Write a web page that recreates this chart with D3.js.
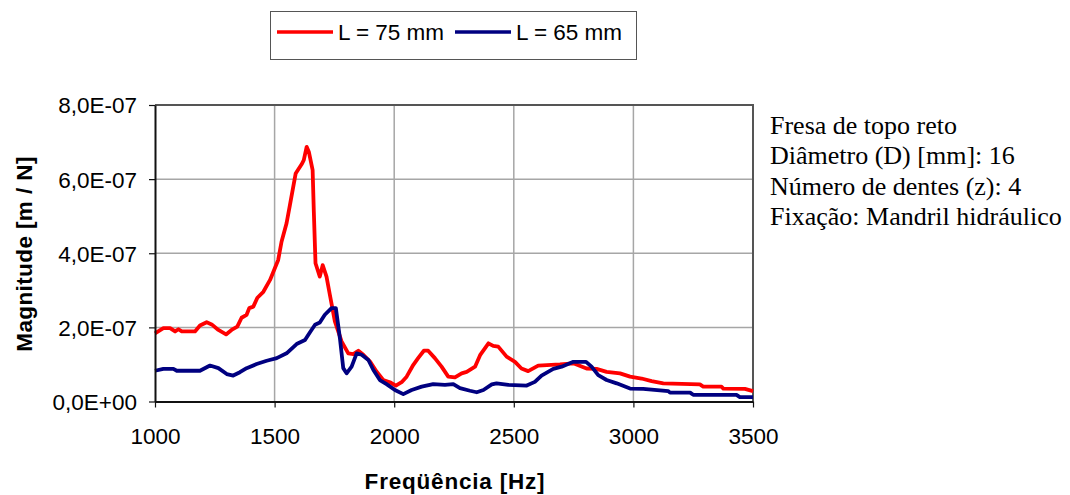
<!DOCTYPE html>
<html>
<head>
<meta charset="utf-8">
<script src="https://cdn.jsdelivr.net/npm/d3@7"></script>
<style>
  body { margin: 0; background: #fff; }
  svg { display: block; }
</style>
</head>
<body>
<svg id="chart" width="1070" height="495"></svg>
<script>
// frequency [Hz] / magnitude [1e-7 m/N]
const freqL75 = [1000, 1035, 1063, 1084, 1098, 1112, 1167, 1188, 1216, 1237, 1265, 1297, 1320, 1344, 1362, 1383, 1394, 1411, 1428, 1453, 1481, 1495, 1515, 1529, 1550, 1564, 1588, 1613, 1622, 1634, 1643, 1659, 1664, 1671, 1689, 1701, 1717, 1731, 1752, 1780, 1808, 1829, 1850, 1871, 1899, 1926, 1954, 1982, 2007, 2031, 2052, 2080, 2100, 2124, 2142, 2170, 2198, 2226, 2254, 2282, 2303, 2338, 2359, 2394, 2414, 2435, 2470, 2505, 2532, 2560, 2602, 2693, 2749, 2804, 2846, 2888, 2944, 2986, 3034, 3076, 3125, 3278, 3292, 3368, 3376, 3466, 3500];
const magL75 = [1.84, 1.98, 1.98, 1.89, 1.95, 1.89, 1.89, 2.05, 2.14, 2.08, 1.93, 1.81, 1.93, 2.02, 2.26, 2.34, 2.52, 2.56, 2.80, 2.96, 3.28, 3.50, 3.82, 4.31, 4.81, 5.30, 6.15, 6.40, 6.51, 6.87, 6.74, 6.24, 5.12, 3.73, 3.37, 3.68, 3.37, 2.88, 2.16, 1.62, 1.30, 1.28, 1.37, 1.26, 1.08, 0.81, 0.58, 0.52, 0.43, 0.52, 0.67, 0.99, 1.17, 1.37, 1.37, 1.17, 0.94, 0.67, 0.65, 0.76, 0.80, 0.94, 1.25, 1.57, 1.50, 1.48, 1.21, 1.07, 0.89, 0.82, 0.97, 1.00, 1.03, 0.89, 0.88, 0.80, 0.76, 0.67, 0.62, 0.55, 0.49, 0.46, 0.40, 0.40, 0.35, 0.34, 0.28];

const freqL65 = [1000, 1035, 1077, 1091, 1188, 1230, 1265, 1300, 1327, 1355, 1383, 1425, 1467, 1509, 1550, 1592, 1627, 1648, 1669, 1689, 1710, 1738, 1756, 1773, 1787, 1801, 1822, 1843, 1864, 1892, 1913, 1940, 1968, 2003, 2038, 2073, 2115, 2163, 2212, 2247, 2275, 2317, 2345, 2373, 2408, 2428, 2477, 2554, 2588, 2616, 2665, 2700, 2749, 2802, 2825, 2853, 2888, 2930, 2986, 3041, 3146, 3153, 3237, 3250, 3431, 3445, 3500];
const magL65 = [0.83, 0.88, 0.88, 0.83, 0.83, 0.97, 0.90, 0.74, 0.70, 0.79, 0.90, 1.01, 1.10, 1.17, 1.30, 1.55, 1.66, 1.87, 2.07, 2.13, 2.34, 2.52, 2.52, 1.71, 0.90, 0.76, 0.94, 1.30, 1.26, 1.12, 0.85, 0.58, 0.47, 0.31, 0.20, 0.31, 0.40, 0.47, 0.45, 0.47, 0.36, 0.29, 0.25, 0.31, 0.46, 0.49, 0.45, 0.43, 0.53, 0.70, 0.88, 0.94, 1.07, 1.07, 0.94, 0.71, 0.58, 0.49, 0.35, 0.34, 0.28, 0.24, 0.24, 0.18, 0.18, 0.12, 0.12];

const seriesNames = ["L = 75 mm", "L = 65 mm"];
const seriesColors = ["#ff0000", "#000080"];
const xTicks = [1000, 1500, 2000, 2500, 3000, 3500];
const yTicks = [0, 2e-7, 4e-7, 6e-7, 8e-7];
const infoLines = ["Fresa de topo reto", "Diâmetro (D) [mm]: 16", "Número de dentes (z): 4", "Fixação: Mandril hidráulico"];

const svg = d3.select("#chart");
const plotL = 155, plotR = 753, plotT = 105, plotB = 401.5;
const sans = "'Liberation Sans', Arial, sans-serif";

const x = d3.scaleLinear().domain([1000, 3500]).range([plotL, plotR]);
const y = d3.scaleLinear().domain([0, 8e-7]).range([plotB, plotT]);

// gridlines
svg.append("g")
  .selectAll("line")
  .data(xTicks.slice(1, -1))
  .enter().append("line")
    .attr("x1", d => x(d)).attr("x2", d => x(d))
    .attr("y1", plotT).attr("y2", plotB)
    .attr("stroke", "#a6a6a6").attr("stroke-width", 1.5);
svg.append("g")
  .selectAll("line")
  .data(yTicks.slice(1, -1))
  .enter().append("line")
    .attr("x1", plotL).attr("x2", plotR)
    .attr("y1", d => y(d)).attr("y2", d => y(d))
    .attr("stroke", "#a6a6a6").attr("stroke-width", 1.5);

// top/right frame
svg.append("path")
  .attr("d", `M${plotL},${plotT}H${plotR}V${plotB}`)
  .attr("fill", "none").attr("stroke", "#555").attr("stroke-width", 2);

// lines
const line = d3.line().x(d => x(d[0])).y(d => y(d[1] * 1e-7));
const series = [d3.zip(freqL75, magL75), d3.zip(freqL65, magL65)];
series.forEach((s, i) => {
  svg.append("path")
    .datum(s)
    .attr("d", line)
    .attr("fill", "none")
    .attr("stroke", seriesColors[i])
    .attr("stroke-width", 3.8)
    .attr("stroke-linejoin", "round");
});

// axes
const fmtY = d => d === 0 ? "0,0E+00" : d3.format(".1e")(d).replace(".", ",").replace(/e-(\d)$/, "E-0$1");
const xAxis = svg.append("g")
  .attr("transform", `translate(0,${plotB})`)
  .call(d3.axisBottom(x).tickValues(xTicks).tickSize(6).tickSizeOuter(0).tickFormat(d3.format("d")));
const yAxis = svg.append("g")
  .attr("transform", `translate(${plotL},0)`)
  .call(d3.axisLeft(y).tickValues(yTicks).tickSize(6).tickSizeOuter(0).tickFormat(fmtY));
[xAxis, yAxis].forEach(a => {
  a.select(".domain").attr("stroke", "#111").attr("stroke-width", 2);
  a.selectAll(".tick line").attr("stroke", "#111").attr("stroke-width", 1.2);
  a.selectAll("text")
    .attr("font-family", sans)
    .attr("font-size", 22.5).attr("fill", "#000");
});
xAxis.selectAll("text").attr("dy", null).attr("y", 42);
yAxis.selectAll("text").attr("x", -18).attr("dy", "0.35em");

// axis titles
svg.append("text")
  .attr("x", 455).attr("y", 489)
  .attr("text-anchor", "middle")
  .attr("font-family", sans)
  .attr("font-size", 22.5).attr("font-weight", "bold")
  .attr("letter-spacing", 0.8)
  .text("Freqüência [Hz]");
svg.append("text")
  .attr("transform", "translate(32,254) rotate(-90)")
  .attr("text-anchor", "middle")
  .attr("font-family", sans)
  .attr("font-size", 22.5).attr("font-weight", "bold")
  .attr("letter-spacing", 0.4)
  .text("Magnitude [m / N]");

// legend
const legend = svg.append("g");
legend.append("rect")
  .attr("x", 270.5).attr("y", 11.5).attr("width", 366).attr("height", 48)
  .attr("fill", "#fff").attr("stroke", "#555").attr("stroke-width", 1);
const legendX = [277, 455];
seriesNames.forEach((name, i) => {
  legend.append("line")
    .attr("x1", legendX[i]).attr("x2", legendX[i] + 56)
    .attr("y1", 32).attr("y2", 32)
    .attr("stroke", seriesColors[i]).attr("stroke-width", 3.5);
  legend.append("text")
    .attr("x", legendX[i] + 61).attr("y", 39.5)
    .attr("font-family", sans)
    .attr("font-size", 22.5)
    .text(name);
});

// info text
svg.append("g")
  .selectAll("text")
  .data(infoLines)
  .enter().append("text")
    .attr("x", 770)
    .attr("y", (d, i) => 134 + i * 30.3)
    .attr("font-family", "'Liberation Serif', 'Times New Roman', serif")
    .attr("font-size", 26)
    .text(d => d);
</script>
</body>
</html>
